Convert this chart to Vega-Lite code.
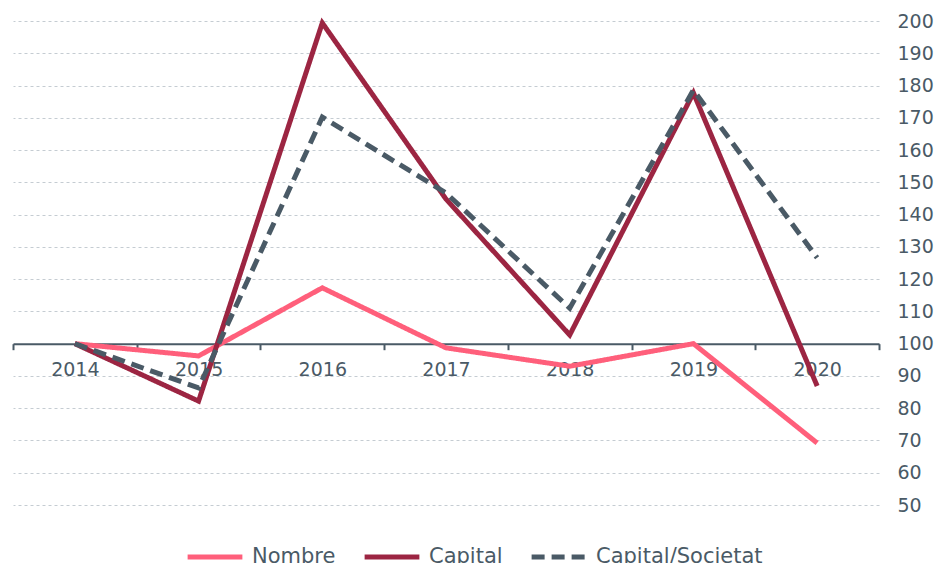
{
  "$schema": "https://vega.github.io/schema/vega-lite/v6.json",
  "autosize": {"type": "none"},
  "width": 866,
  "height": 484,
  "padding": {"left": 13, "top": 21, "right": 60, "bottom": 58},
  "background": "white",
  "config": {
    "view": {"stroke": null},
    "font": "DejaVu Sans"
  },
  "data": {
    "values": [
      {"year": 2014, "series": "Nombre", "value": 100},
      {"year": 2015, "series": "Nombre", "value": 96.2},
      {"year": 2016, "series": "Nombre", "value": 117.3},
      {"year": 2017, "series": "Nombre", "value": 98.7},
      {"year": 2018, "series": "Nombre", "value": 93},
      {"year": 2019, "series": "Nombre", "value": 100},
      {"year": 2020, "series": "Nombre", "value": 69.2},
      {"year": 2014, "series": "Capital", "value": 100},
      {"year": 2015, "series": "Capital", "value": 82.2},
      {"year": 2016, "series": "Capital", "value": 199.4},
      {"year": 2017, "series": "Capital", "value": 144.8},
      {"year": 2018, "series": "Capital", "value": 102.7},
      {"year": 2019, "series": "Capital", "value": 177.7},
      {"year": 2020, "series": "Capital", "value": 86.9},
      {"year": 2014, "series": "Capital/Societat", "value": 100},
      {"year": 2015, "series": "Capital/Societat", "value": 86.3},
      {"year": 2016, "series": "Capital/Societat", "value": 170.2},
      {"year": 2017, "series": "Capital/Societat", "value": 146.7},
      {"year": 2018, "series": "Capital/Societat", "value": 111},
      {"year": 2019, "series": "Capital/Societat", "value": 178.6},
      {"year": 2020, "series": "Capital/Societat", "value": 126.6}
    ]
  },
  "mark": {"type": "line", "strokeWidth": 5, "strokeCap": "butt", "strokeJoin": "miter"},
  "encoding": {
    "x": {
      "field": "year",
      "type": "quantitative",
      "scale": {"domain": [2013.5, 2020.5], "nice": false, "zero": false},
      "axis": {
        "title": null,
        "values": [2013.5, 2014.5, 2015.5, 2016.5, 2017.5, 2018.5, 2019.5, 2020.5],
        "labelExpr": "datum.value < 2020 ? format(datum.value + 0.5, 'd') : ''",
        "labelOffset": 61.86,
        "labelOverlap": false,
        "labelFlush": false,
        "labelBound": false,
        "grid": false,
        "offset": -161.3,
        "domainColor": "#4a5a66",
        "domainWidth": 2,
        "tickColor": "#4a5a66",
        "tickWidth": 2,
        "tickSize": 6,
        "labelPadding": 11,
        "labelFontSize": 19,
        "labelColor": "#4a5a66",
        "labelFont": "DejaVu Sans"
      }
    },
    "y": {
      "field": "value",
      "type": "quantitative",
      "scale": {"domain": [50, 200], "nice": false, "zero": false},
      "axis": {
        "title": null,
        "orient": "right",
        "values": [50, 60, 70, 80, 90, 100, 110, 120, 130, 140, 150, 160, 170, 180, 190, 200],
        "domain": false,
        "ticks": false,
        "labelPadding": 18,
        "labelFontSize": 19,
        "labelColor": "#4a5a66",
        "labelFont": "DejaVu Sans",
        "gridColor": "#c5ccd2",
        "gridDash": [3, 3],
        "gridWidth": 1
      }
    },
    "color": {
      "field": "series",
      "type": "nominal",
      "sort": ["Nombre", "Capital", "Capital/Societat"],
      "scale": {
        "domain": ["Nombre", "Capital", "Capital/Societat"],
        "range": ["#ff5f7b", "#9c2542", "#4a5a66"]
      },
      "legend": {
        "title": null,
        "orient": "none",
        "direction": "horizontal",
        "legendX": 172,
        "legendY": 506,
        "symbolType": "stroke",
        "symbolSize": 3000,
        "symbolStrokeWidth": 5,
        "labelFontSize": 21,
        "labelColor": "#4a5a66",
        "labelFont": "DejaVu Sans",
        "labelOffset": 7,
        "labelLimit": 300,
        "columnPadding": 18
      }
    },
    "strokeDash": {
      "field": "series",
      "type": "nominal",
      "sort": ["Nombre", "Capital", "Capital/Societat"],
      "scale": {
        "domain": ["Nombre", "Capital", "Capital/Societat"],
        "range": [[1, 0], [1, 0], [13, 7]]
      },
      "legend": {
        "title": null,
        "orient": "none",
        "direction": "horizontal",
        "legendX": 172,
        "legendY": 506,
        "symbolType": "stroke",
        "symbolSize": 3000,
        "symbolStrokeWidth": 5,
        "labelFontSize": 21,
        "labelColor": "#4a5a66",
        "labelFont": "DejaVu Sans",
        "labelOffset": 7,
        "labelLimit": 300,
        "columnPadding": 18
      }
    }
  }
}
